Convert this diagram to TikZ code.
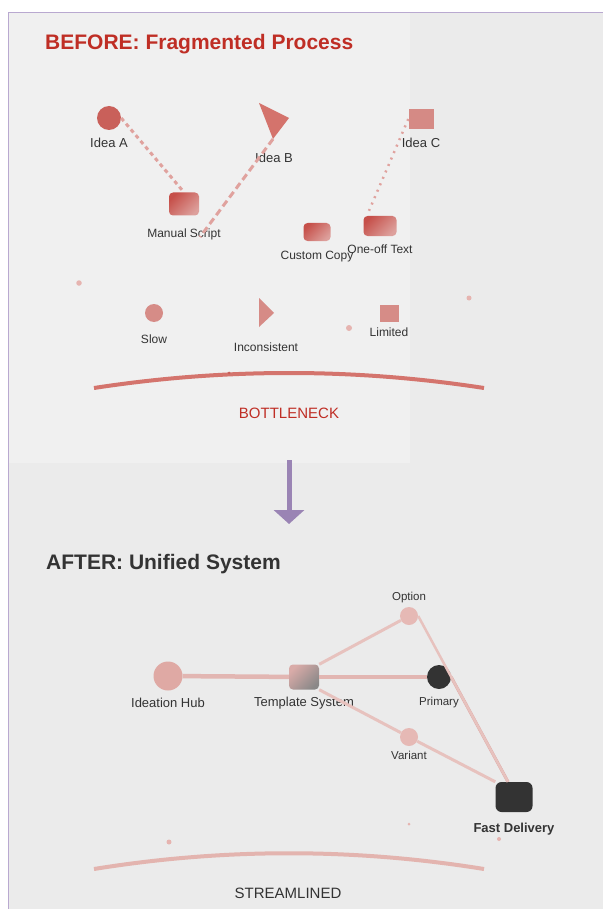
\documentclass[tikz,border=0pt]{standalone}
\usepackage{fontspec}
\setmainfont{Liberation Sans}
\usetikzlibrary{arrows.meta}

\definecolor{bgall}{HTML}{EBEBEB}
\definecolor{bgpanel}{HTML}{F0F0F0}
\definecolor{framecol}{HTML}{B9A9D0}
\definecolor{redtitle}{HTML}{BF2E25}
\definecolor{darktext}{HTML}{333333}
\definecolor{ideaAcol}{HTML}{C9605A}
\definecolor{ideaBcol}{HTML}{D4736C}
\definecolor{ideaCcol}{HTML}{D58A85}
\definecolor{boxdark}{HTML}{C6504A}
\definecolor{boxlight}{HTML}{DDA09C}
\definecolor{paincol}{HTML}{D68C87}
\definecolor{linkred}{HTML}{E0A29E}
\definecolor{dotcol}{HTML}{E6B4B0}
\definecolor{arccol}{HTML}{D4746D}
\definecolor{arrowcol}{HTML}{9A84B4}
\definecolor{hubcol}{HTML}{DFA9A4}
\definecolor{softcol}{HTML}{E6B9B5}
\definecolor{tplgray}{HTML}{8A8888}
\definecolor{tplpink}{HTML}{D9ABA8}
\definecolor{mainlink}{HTML}{E2B6B2}
\definecolor{sublink}{HTML}{E7C2BE}
\definecolor{fastlink}{HTML}{DBA4A0}
\definecolor{streamcol}{HTML}{E3B4AF}

\tikzstyle{title} = [anchor=base west, inner sep=0pt, font=\bfseries\fontsize{21}{24}\selectfont]
\tikzstyle{ideatext} = [text=darktext, font=\fontsize{13}{15}\selectfont]
\tikzstyle{boxtext} = [text=darktext, font=\fontsize{12}{14}\selectfont]
\tikzstyle{smalltext} = [text=darktext, font=\fontsize{11.5}{13}\selectfont]
\tikzstyle{verdict} = [font=\fontsize{15}{17}\selectfont]
\tikzstyle{scriptbox} = [rectangle, rounded corners=4pt, inner sep=0pt,
    top color=boxdark, bottom color=boxlight, shading angle=45]
\tikzstyle{blob} = [circle, inner sep=0pt]
\tikzstyle{speck} = [circle, inner sep=0pt, fill=dotcol]
\tikzstyle{link} = [draw=linkred, line width=3pt]

\begin{document}
\begin{tikzpicture}[x=1pt, y=-1pt, node distance=25pt]
\useasboundingbox (0,0) rectangle (603,909);
 % backdrop and frame
 \fill [white] (0,0) rectangle (603,909);
 \fill [bgall] (8,12) rectangle (603,909);
 \fill [bgpanel] (8,12) rectangle (410,463);
 \draw [framecol, line width=0.8pt] (8,909) -- (8,12) -- (603,12);

 % before
 \node [title, text=redtitle] at (45,50) (beforetitle) {BEFORE: Fragmented Process};
 \node at (109,118) [blob, fill=ideaAcol, minimum size=24pt, name=ideaA] {};
 \node [ideatext, below of=ideaA] (ideaAlbl) {Idea A};
 \coordinate (ideaB) at (273,139);
 \fill [ideaBcol] (259,103) -- (289,118) -- (ideaB) -- cycle;
 \node at (274,158) [ideatext, name=ideaBlbl] {Idea B};
 \node at (421,119) [rectangle, fill=ideaCcol, minimum width=25pt, minimum height=20pt, inner sep=0pt, name=ideaC] {};
 \node [ideatext, below of=ideaC, node distance=24pt] (ideaClbl) {Idea C};
 \node at (184,204) [scriptbox, minimum width=30pt, minimum height=23pt, name=manual] {};
 \node [boxtext, below of=manual, node distance=30pt] (manuallbl) {Manual Script};
 \node at (317,232) [scriptbox, minimum width=27pt, minimum height=18pt, name=custom] {};
 \node [boxtext, below of=custom, node distance=25pt] (customlbl) {Custom Copy};
 \node at (380,226) [scriptbox, minimum width=33pt, minimum height=20pt, name=oneoff] {};
 \node [boxtext, below of=oneoff, node distance=23pt] (oneofflbl) {One-off Text};
 \coordinate (scriptend) at (200,237);
 \path [link, dash pattern=on 4pt off 3.5pt] (ideaA.east) -- (manual.north);
 \path [link, dash pattern=on 7pt off 4pt] (ideaB) -- (scriptend);
 \path [link, line width=2.5pt, dash pattern=on 2pt off 5pt] (ideaC.west) -- ([xshift=-11pt, yshift=5pt]oneoff.north);

 % pain points
 \node at (79,283) [speck, minimum size=5.5pt] (speckA) {};
 \node at (469,298) [speck, minimum size=5pt] (speckB) {};
 \node at (349,328) [speck, minimum size=6pt] (speckC) {};
 \node at (154,313) [blob, fill=paincol, minimum size=18pt, name=slow] {};
 \node [boxtext, below of=slow, node distance=26pt] (slowlbl) {Slow};
 \coordinate (incons) at (266,313);
 \fill [paincol!95!ideaBcol] (259,298) -- (274,313) -- (259,327) -- cycle;
 \node [boxtext, below of=incons, node distance=34pt] (inconslbl) {Inconsistent};
 \node at (389,313) [rectangle, fill=paincol, minimum width=19pt, minimum height=17pt, inner sep=0pt, name=limited] {};
 \node [boxtext, below of=limited, node distance=19pt] (limitedlbl) {Limited};
 \coordinate (bneckL) at (94,388);
 \coordinate (bneckR) at (484,388);
 \draw [arccol, line width=4pt] (bneckL) .. controls (224,368) and (354,368) .. (bneckR);
 \node at (229,373) [circle, inner sep=0pt, fill=ideaAcol, minimum size=3pt] (nick) {};
 \node at (289,413) [verdict, text=redtitle] (bneck) {BOTTLENECK};

 % transition
 \coordinate (arrowtop) at (289,460);
 \coordinate (arrowtip) at (289,524);
 \draw [arrowcol, line width=5pt, -{Triangle[width=30pt, length=14pt]}] (arrowtop) -- (arrowtip);

 % after
 \node [title, text=darktext] at (46,569) (aftertitle) {AFTER: Unified System};
 \node at (168,676) [blob, fill=hubcol, minimum size=29pt, name=hub] {};
 \node [ideatext, below of=hub, node distance=27pt] (hublbl) {Ideation Hub};
 \node at (304,677) [rectangle, rounded corners=4pt, inner sep=0pt, minimum width=30pt, minimum height=25pt,
    top color=tplpink, bottom color=tplgray, shading angle=45, name=template] {};
 \node [ideatext, below of=template, node distance=26pt] (templatelbl) {Template System};
 \node at (439,677) [blob, fill=darktext, minimum size=24pt, name=primary] {};
 \node [smalltext, below of=primary, node distance=26pt] (primarylbl) {Primary};
 \node at (409,616) [blob, fill=softcol, minimum size=18pt, name=option] {};
 \node [smalltext, above of=option, node distance=18pt] (optionlbl) {Option};
 \node at (409,737) [blob, fill=softcol, minimum size=18pt, name=variant] {};
 \node [smalltext, below of=variant, node distance=18pt] (variantlbl) {Variant};
 \node at (514,797) [rectangle, rounded corners=6pt, fill=darktext, minimum width=37pt, minimum height=30pt, name=fast] {};
 \node [ideatext, font=\bfseries\fontsize{13}{15}\selectfont, below of=fast, node distance=32pt] (fastlbl) {Fast Delivery};
 \path [draw=mainlink, line width=4.5pt] (hub) -- (template);
 \path [draw=mainlink, line width=4.5pt] (template) -- (primary);
 \path [draw=sublink, line width=3pt] (template.north east) -- (option);
 \path [draw=sublink, line width=3pt] (template.south east) -- (variant);
 \path [draw=sublink, line width=3pt] (variant) -- (fast.north west);
 \path [draw=fastlink, line width=3pt] (primary.east) -- ([xshift=-6pt]fast.north);
 \path [draw=sublink, line width=2.5pt] (option.east) -- ([xshift=-6pt]fast.north);
 \node at (169,842) [speck, minimum size=5pt] (speckD) {};
 \node at (409,824) [speck, minimum size=3pt] (speckE) {};
 \node at (499,839) [speck, minimum size=4pt] (speckF) {};
 \coordinate (streamL) at (94,869);
 \coordinate (streamR) at (484,869);
 \draw [streamcol, line width=4pt] (streamL) .. controls (224,848) and (354,848) .. (streamR);
 \node at (288,893) [verdict, text=darktext] (stream) {STREAMLINED};
\end{tikzpicture}
\end{document}
